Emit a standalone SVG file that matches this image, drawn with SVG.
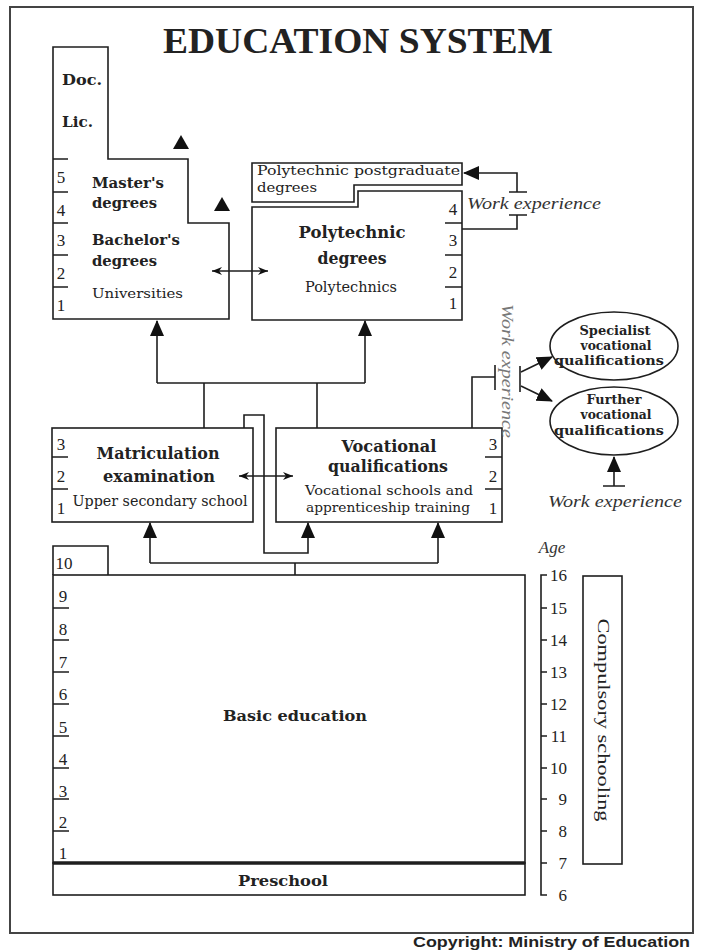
<svg xmlns="http://www.w3.org/2000/svg" width="701" height="951" viewBox="0 0 701 951">
<style>
.ln{fill:none;stroke:#1e1e1e;stroke-width:1.6}
.bx{fill:#fff;stroke:#1e1e1e;stroke-width:1.6}
.tk{stroke:#1e1e1e;stroke-width:1.6}
.b{font-family:"DejaVu Serif","Liberation Serif",serif;font-weight:bold;fill:#222}
.r{font-family:"DejaVu Serif","Liberation Serif",serif;fill:#222}
.n{font-family:"Liberation Serif",serif;font-size:17px;fill:#222;text-anchor:middle}
.it{font-family:"Liberation Serif",serif;font-style:italic;font-size:17px}
.m{text-anchor:middle}
</style>
<defs>
<marker id="ah" viewBox="0 0 16 16" refX="15" refY="8" markerWidth="16" markerHeight="16" markerUnits="userSpaceOnUse" orient="auto"><path d="M0,1 L16,8 L0,15 Z" fill="#111"/></marker>
<marker id="sa" viewBox="0 0 10 8" refX="10" refY="4" markerWidth="10" markerHeight="8" markerUnits="userSpaceOnUse" orient="auto-start-reverse"><path d="M0,0 L10,4 L0,8 L3,4 Z" fill="#111"/></marker>
</defs>
<rect x="0" y="0" width="701" height="951" fill="#fff"/>
<rect x="10" y="7" width="683" height="926" fill="none" stroke="#444" stroke-width="2"/>
<text x="358" y="53" font-family="Liberation Serif,serif" font-weight="bold" font-size="35" fill="#222" text-anchor="middle" textLength="390" lengthAdjust="spacingAndGlyphs">EDUCATION SYSTEM</text>

<g id="universities">
<path class="bx" d="M53,47 H108 V159 H188 V223 H229 V319 H53 Z"/>
<path class="tk" d="M53,159 H68 M53,192 H68 M53,223 H68 M53,255 H68 M53,287 H68"/>
<text class="n" x="61" y="183">5</text><text class="n" x="61" y="216">4</text><text class="n" x="61" y="246">3</text><text class="n" x="61" y="279">2</text><text class="n" x="61" y="311">1</text>
<text class="b" x="62" y="85" font-size="15" textLength="40" lengthAdjust="spacingAndGlyphs">Doc.</text>
<text class="b" x="62" y="127" font-size="15" textLength="31" lengthAdjust="spacingAndGlyphs">Lic.</text>
<text class="b" x="92" y="188" font-size="15" textLength="72" lengthAdjust="spacingAndGlyphs">Master's</text>
<text class="b" x="92" y="208" font-size="15" textLength="65" lengthAdjust="spacingAndGlyphs">degrees</text>
<text class="b" x="92" y="245" font-size="15" textLength="88" lengthAdjust="spacingAndGlyphs">Bachelor's</text>
<text class="b" x="92" y="266" font-size="15" textLength="65" lengthAdjust="spacingAndGlyphs">degrees</text>
<text class="r" x="92" y="298" font-size="13" textLength="91" lengthAdjust="spacingAndGlyphs">Universities</text>
<polygon points="181,135 189,149 173,149" fill="#111"/>
<polygon points="222,197 230,211 214,211" fill="#111"/>
</g>

<g id="polytechnic-postgraduate">
<path class="bx" d="M252,163 H462 V185 H354 V202 H252 Z"/>
<text class="r" x="257" y="175" font-size="13" textLength="203" lengthAdjust="spacingAndGlyphs">Polytechnic postgraduate</text>
<text class="r" x="257" y="192" font-size="13" textLength="60" lengthAdjust="spacingAndGlyphs">degrees</text>
</g>

<g id="polytechnics">
<path class="bx" d="M252,207 H358 V191 H462 V320 H252 Z"/>
<path class="tk" d="M445,223 H462 M445,255 H462 M445,287 H462"/>
<text class="n" x="453" y="215">4</text><text class="n" x="453" y="246">3</text><text class="n" x="453" y="278">2</text><text class="n" x="453" y="309">1</text>
<text class="b m" x="352" y="238" font-size="16" textLength="107" lengthAdjust="spacingAndGlyphs">Polytechnic</text>
<text class="b m" x="352" y="264" font-size="16" textLength="69" lengthAdjust="spacingAndGlyphs">degrees</text>
<text class="r m" x="351" y="292" font-size="14" textLength="92" lengthAdjust="spacingAndGlyphs">Polytechnics</text>
</g>

<g id="work-experience-top">
<text class="it" x="467" y="209" fill="#333" textLength="134" lengthAdjust="spacingAndGlyphs">Work experience</text>
</g>

<g id="matriculation">
<rect class="bx" x="52" y="428" width="201" height="94"/>
<path class="tk" d="M52,457 H68 M52,489 H68"/>
<text class="n" x="61" y="450">3</text><text class="n" x="61" y="482">2</text><text class="n" x="61" y="514">1</text>
<text class="b m" x="158" y="459" font-size="16" textLength="123" lengthAdjust="spacingAndGlyphs">Matriculation</text>
<text class="b m" x="159" y="482" font-size="16" textLength="112" lengthAdjust="spacingAndGlyphs">examination</text>
<text class="r m" x="160" y="506" font-size="14" textLength="175" lengthAdjust="spacingAndGlyphs">Upper secondary school</text>
</g>

<g id="vocational">
<rect class="bx" x="276" y="428" width="226" height="94"/>
<path class="tk" d="M485,457 H502 M485,489 H502"/>
<text class="n" x="493" y="450">3</text><text class="n" x="493" y="482">2</text><text class="n" x="493" y="514">1</text>
<text class="b m" x="389" y="452" font-size="16" textLength="95" lengthAdjust="spacingAndGlyphs">Vocational</text>
<text class="b m" x="388" y="472" font-size="16" textLength="120" lengthAdjust="spacingAndGlyphs">qualifications</text>
<text class="r m" x="389" y="495" font-size="13.5" textLength="168" lengthAdjust="spacingAndGlyphs">Vocational schools and</text>
<text class="r m" x="388" y="512" font-size="13.5" textLength="164" lengthAdjust="spacingAndGlyphs">apprenticeship training</text>
</g>

<g id="work-experience-vertical">
<text class="it m" transform="translate(502,371) rotate(90)" x="0" y="0" fill="#777" textLength="134" lengthAdjust="spacingAndGlyphs">Work experience</text>
</g>

<g id="specialist">
<ellipse class="bx" cx="614" cy="346" rx="64" ry="34"/>
<text class="b m" x="615" y="335" font-size="12.5" textLength="71" lengthAdjust="spacingAndGlyphs">Specialist</text>
<text class="b m" x="616" y="350" font-size="12.5" textLength="71" lengthAdjust="spacingAndGlyphs">vocational</text>
<text class="b m" x="609" y="365" font-size="12.5" textLength="110" lengthAdjust="spacingAndGlyphs">qualifications</text>
</g>

<g id="further">
<ellipse class="bx" cx="614" cy="421" rx="64" ry="34"/>
<text class="b m" x="614" y="404" font-size="12.5" textLength="55" lengthAdjust="spacingAndGlyphs">Further</text>
<text class="b m" x="616" y="419" font-size="12.5" textLength="71" lengthAdjust="spacingAndGlyphs">vocational</text>
<text class="b m" x="609" y="435" font-size="12.5" textLength="110" lengthAdjust="spacingAndGlyphs">qualifications</text>
</g>

<g id="work-experience-bottom">
<text class="it" x="548" y="507" fill="#333" textLength="134" lengthAdjust="spacingAndGlyphs">Work experience</text>
</g>

<g id="basic-education">
<path class="ln" d="M53,575 V546 H108 V575"/>
<rect class="bx" x="53" y="575" width="472" height="288"/>
<path class="tk" d="M53,608 H69 M53,640 H69 M53,672 H69 M53,704 H69 M53,736 H69 M53,768 H69 M53,799 H69 M53,831 H69"/>
<text class="n" x="64" y="569">10</text>
<text class="n" x="63" y="602">9</text><text class="n" x="63" y="635">8</text><text class="n" x="63" y="668">7</text><text class="n" x="63" y="700">6</text><text class="n" x="63" y="733">5</text><text class="n" x="63" y="765">4</text><text class="n" x="63" y="797">3</text><text class="n" x="63" y="828">2</text><text class="n" x="63" y="859">1</text>
<text class="b m" x="295" y="721" font-size="15" textLength="144" lengthAdjust="spacingAndGlyphs">Basic education</text>
</g>

<g id="preschool">
<rect class="bx" x="53" y="863" width="472" height="32"/>
<line x1="53" y1="863" x2="525" y2="863" stroke="#1e1e1e" stroke-width="3.5"/>
<text class="b m" x="283" y="886" font-size="15" textLength="90" lengthAdjust="spacingAndGlyphs">Preschool</text>
</g>

<g id="age-scale">
<text class="it m" x="552" y="553" font-size="16" fill="#333">Age</text>
<path class="ln" d="M547,575 H541 V895 H547 M541,608 H547 M541,640 H547 M541,672 H547 M541,704 H547 M541,736 H547 M541,768 H547 M541,799 H547 M541,831 H547 M541,863 H547"/>
<g font-family="Liberation Serif,serif" font-size="17" fill="#222" text-anchor="end">
<text x="567" y="581">16</text><text x="567" y="614">15</text><text x="567" y="646">14</text><text x="567" y="678">13</text><text x="567" y="710">12</text><text x="567" y="742">11</text><text x="567" y="774">10</text><text x="567" y="805">9</text><text x="567" y="837">8</text><text x="567" y="869">7</text><text x="567" y="901">6</text>
</g>
</g>

<g id="compulsory-schooling">
<rect class="bx" x="583" y="576" width="39" height="288"/>
<text transform="translate(598,720) rotate(90)" x="0" y="0" font-family="Liberation Serif,serif" font-size="16" fill="#222" text-anchor="middle" textLength="203" lengthAdjust="spacingAndGlyphs">Compulsory schooling</text>
</g>

<g id="connectors">
<path class="ln" d="M212,271 H268" marker-start="url(#sa)" marker-end="url(#sa)"/>
<path class="ln" d="M239,476 H293" marker-start="url(#sa)" marker-end="url(#sa)"/>
<path class="ln" d="M157,383 H365 M204,383 V428 M317,383 V428"/>
<path class="ln" d="M157,383 V321" marker-end="url(#ah)"/>
<path class="ln" d="M365,383 V321" marker-end="url(#ah)"/>
<path class="ln" d="M462,229 H517 V215 M509,215 H527"/>
<path class="ln" d="M509,192 H527 M517,192 V173 H464" marker-end="url(#ah)"/>
<path class="ln" d="M244,428 V415 H264 V553 H308 V523" marker-end="url(#ah)"/>
<path class="ln" d="M150,563 H438 M295,563 V575"/>
<path class="ln" d="M150,563 V523" marker-end="url(#ah)"/>
<path class="ln" d="M438,563 V523" marker-end="url(#ah)"/>
<path class="ln" d="M472,428 V377 H495 M495,365 V390 M520,366 V392"/>
<path class="ln" d="M521,372 L552,357" marker-end="url(#ah)"/>
<path class="ln" d="M521,386 L552,401" marker-end="url(#ah)"/>
<path class="ln" d="M603,486 H625 M614,486 V457" marker-end="url(#ah)"/>
</g>

<text x="690" y="947" font-family="Liberation Sans,Arial,sans-serif" font-weight="bold" font-size="14" fill="#222" text-anchor="end" textLength="277" lengthAdjust="spacingAndGlyphs">Copyright: Ministry of Education</text>
</svg>
